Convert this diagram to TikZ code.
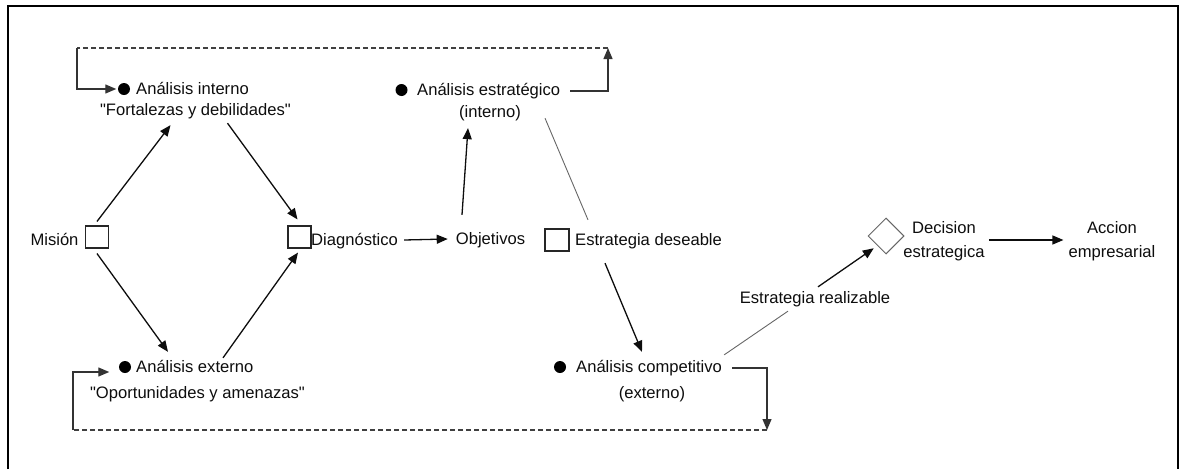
\documentclass[tikz,border=0pt]{standalone}
\usepackage{fontspec}
\setmainfont{Liberation Sans}[Ligatures=TeXOff]
\usetikzlibrary{arrows.meta,calc,shapes.geometric}
\begin{document}
\begin{tikzpicture}[x=1pt,y=-1pt,
  txt/.style={inner sep=0pt, font=\fontsize{16.6}{24}\selectfont, text=black!95, text height=11.9pt, text depth=0pt},
  txtb/.style={inner sep=0pt, font=\fontsize{16.6}{24}\selectfont, text=black!95, align=center, text height=35.9pt, text depth=0pt},
  sq/.style={draw=black!85, line width=1.1pt, minimum width=23pt, minimum height=22pt, inner sep=0pt},
  blob/.style={circle, fill=black, inner sep=0pt, minimum size=12pt},
  tip/.style={-{Triangle[length=11pt,width=9pt]}},
  arr/.style={draw=black!95, line width=1.3pt, tip},
  faint/.style={draw=black!60, line width=0.9pt},
  dsh/.style={draw=black!75, line width=1.3pt, dash pattern=on 5pt off 3pt},
  fb/.style={draw=black!80, line width=1.3pt}]
\useasboundingbox (0,0) rectangle (1184,469);
\draw[line width=2.2pt] (8,469) -- (8,6) -- (1178,6) -- (1178,469);

% Misión
\node[txt] (mis) at (54.5,240) {Misión};
\node[sq] (mbox) at (97,237) {};
% Diagnóstico
\node[sq] (dbox) at (299.5,237) {};
\node[txt, anchor=west] (diag) at (311,240) {Diagnóstico};
% Análisis interno
\node[blob] (intd) at (124,89) {};
\node[txt, anchor=west] (intl) at (136,89) {Análisis interno};
\node[txt] (fort) at (195.5,110) {"Fortalezas y debilidades"};
% Análisis externo
\node[blob] (extd) at (125,367) {};
\node[txt, anchor=west] (ext) at (136,367) {Análisis externo};
\node[txt] (opp) at (197.5,393) {"Oportunidades y amenazas"};
% Objetivos
\node[txt] (obj) at (490.5,239) {Objetivos};
% Análisis estratégico
\node[blob] (strd) at (401.5,90) {};
\node[txt, anchor=west] (strat) at (417,90) {Análisis estratégico};
\node[txt] (intp) at (490,112) {(interno)};
% Estrategia deseable
\node[sq, minimum width=24pt] (sbox) at (557,240) {};
\node[txt, anchor=west] (des) at (575,240) {Estrategia deseable};
% Análisis competitivo
\node[blob] (compd) at (560,367) {};
\node[txt, anchor=west] (comp) at (576,367) {Análisis competitivo};
\node[txt] (extp) at (652,393) {(externo)};
% Estrategia realizable
\node[txt] (real) at (815,298) {Estrategia realizable};
% Decision
\node[diamond, aspect=1, draw=black!60, line width=1pt, minimum size=36pt, inner sep=0pt] (dia) at (886,236) {};
\node[txtb] (dec) at (944,240) {Decision\\estrategica};
\node[txtb] (acc) at (1112,240) {Accion\\empresarial};

% connectors
\draw[arr] ($(mbox.north)+(0,-4)$) -- ($(fort.south)+(-25,9)$);
\draw[arr] ($(fort.south)+(32,7)$) -- ($(dbox.north)+(-2,-6)$);
\draw[arr] ($(mbox.south)+(0,5)$) -- ($(ext.north west)+(32,-9)$);
\draw[arr] ($(ext.north west)+(87,-3)$) -- ($(dbox.south)+(-1.5,4)$);
\draw[arr] ($(diag.east)+(6,0)$) -- ($(obj.west)+(-8,0)$);
\draw[arr] ($(obj.north)+(-28.5,-18)$) -- ($(intp.south)+(-22,10)$);
\draw[faint] ($(intp.south)+(55,0)$) -- ($(des.north west)+(13,-14)$);
\draw[arr] ($(des.south west)+(30,17)$) -- ($(comp.north west)+(66,-9)$);
\draw[faint] ($(comp.north east)+(2,-6)$) -- ($(real.south)+(-27,7)$);
\draw[arr] ($(real.north)+(3,-5)$) -- ($(dia.south west)+(-3,3)$);
\draw[arr] ($(dec.east)+(4,0)$) -- ($(acc.west)+(-5,0)$);

% feedback loops
\coordinate (tr) at (608,48);
\coordinate (tl) at (77,48);
\draw[fb, tip] ($(strat.east)+(10,1)$) -| (tr);
\draw[dsh] (tr) -- (tl);
\draw[fb, tip] (tl) |- ($(intd.west)+(-1.5,0)$);

\coordinate (br) at (767,430);
\coordinate (bl) at (73,430);
\draw[fb, tip] ($(comp.east)+(10,1)$) -| (br);
\draw[dsh] (br) -- (bl);
\draw[fb, tip] (bl) |- ($(extd.west)+(-9.5,5)$);
\end{tikzpicture}
\end{document}
